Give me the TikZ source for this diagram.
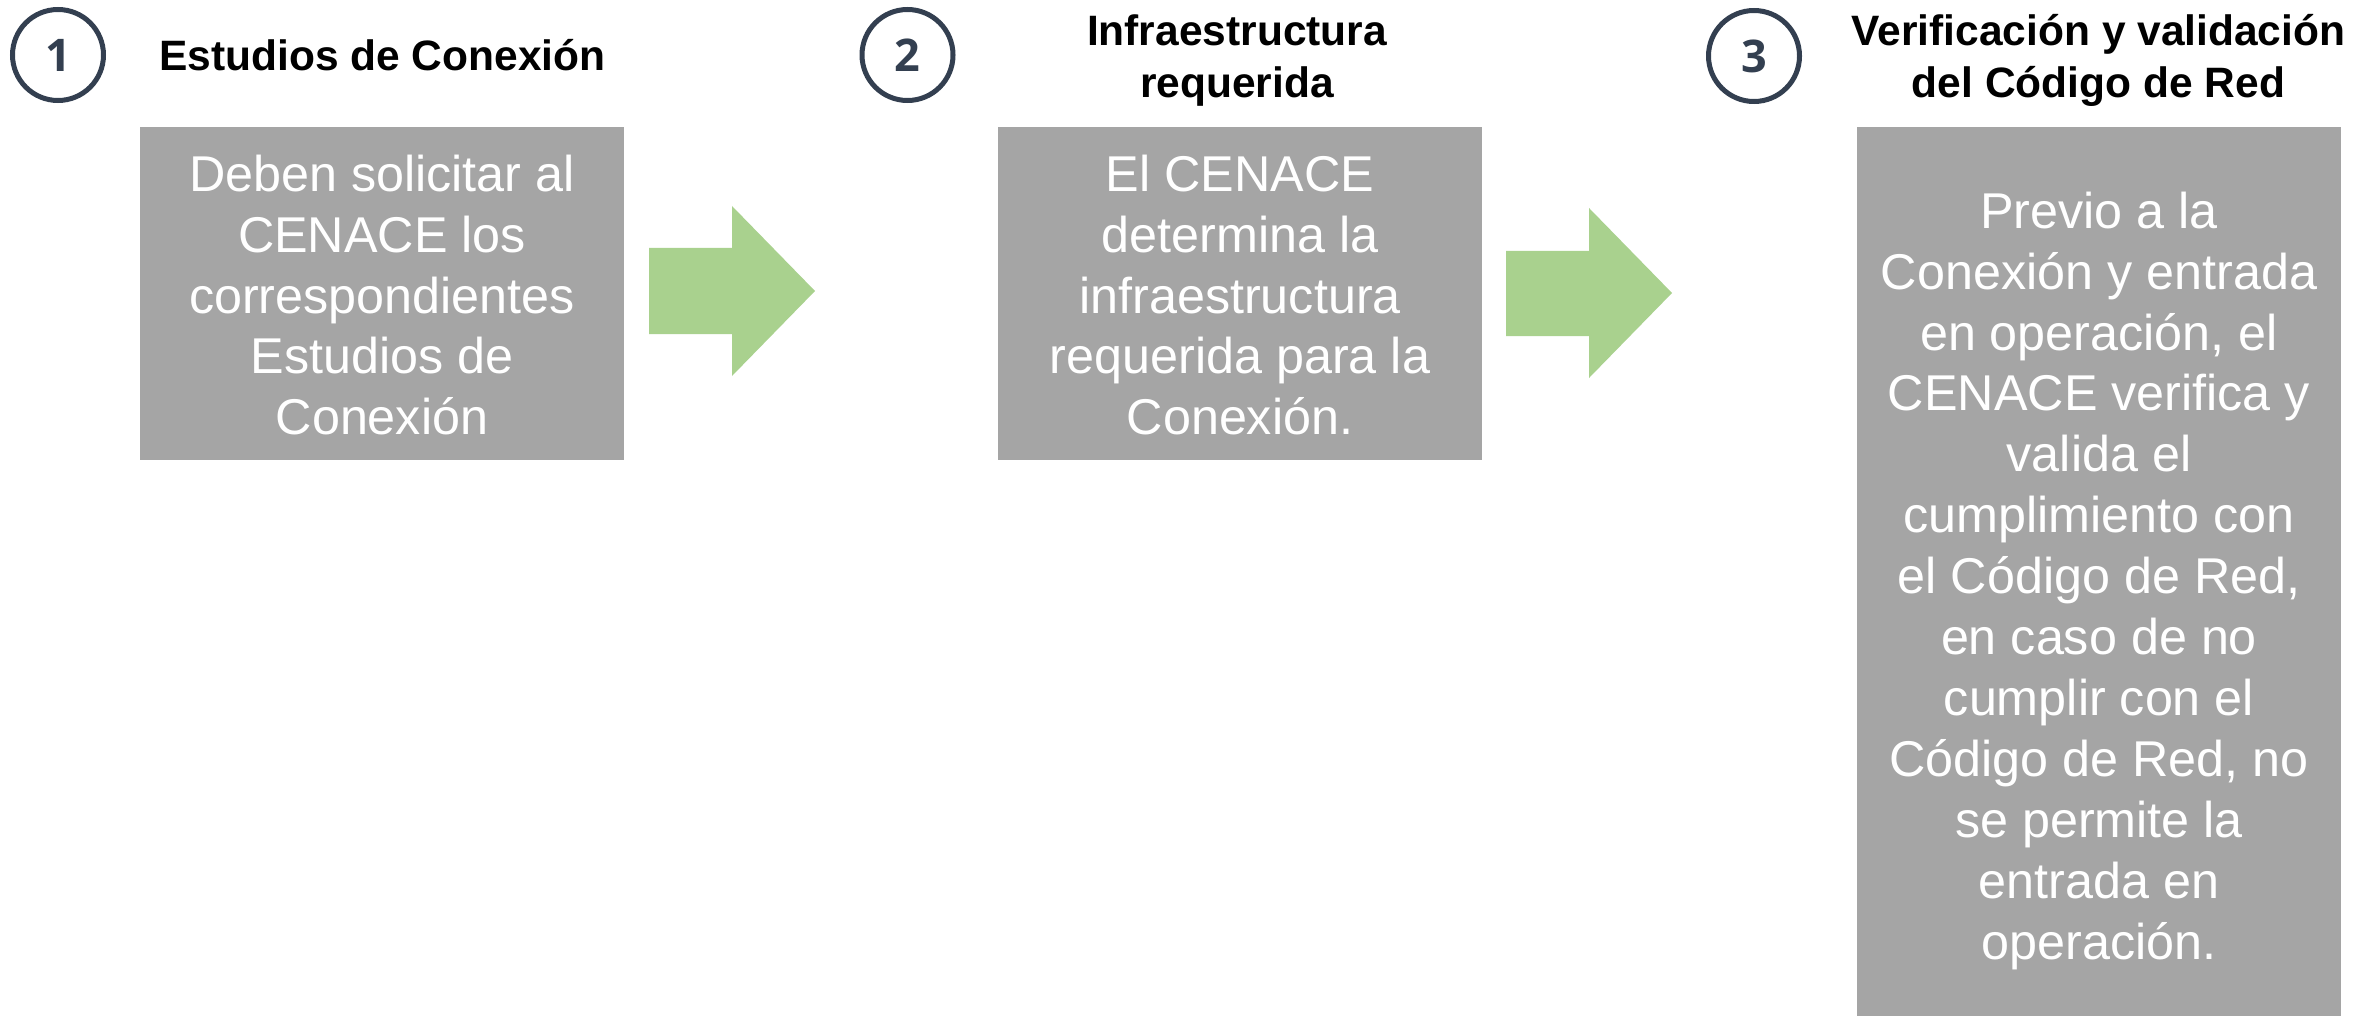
\documentclass[tikz,border=0pt]{standalone}
\usepackage{fontspec}
\setmainfont{Liberation Sans}
\newfontfamily\numfont{Open Sans}
\definecolor{slate}{RGB}{51,63,80}
\definecolor{boxgray}{RGB}{165,165,165}
\definecolor{arrowgreen}{RGB}{169,209,142}
\begin{document}
\begin{tikzpicture}[x=1pt,y=-1pt,
  graybox/.style={rectangle, fill=boxgray, draw=none, inner sep=0pt},
  boxtext/.style={text=white, align=center, inner sep=0pt, anchor=north, font=\fontsize{50.3}{60.9}\selectfont},
  titletext/.style={font=\bfseries\fontsize{42.5}{52}\selectfont, inner sep=0pt, align=center},
  stepnum/.style={circle, draw=slate, line width=5pt, minimum size=91pt, inner sep=0pt, text=slate, font=\numfont\bfseries\fontsize{45}{54}\selectfont},
  flowarrow/.style={fill=arrowgreen, draw=none}]
\useasboundingbox (0,0) rectangle (2353,1016);

% boxes
\node[graybox, minimum width=484pt, minimum height=333pt] (b1) at (382,293.5) {};
\node[graybox, minimum width=484pt, minimum height=333pt] (b2) at (1240,293.5) {};
\node[graybox, minimum width=484pt, minimum height=889pt] (b3) at (2099,571.5) {};

% box texts
\node[boxtext] (t1) at (382,151) {\rule{0pt}{40pt}Deben solicitar al\\CENACE los\\correspondientes\\Estudios de\\Conexión};
\node[boxtext] (t2) at (1240,151) {\rule{0pt}{40pt}El CENACE\\determina la\\infraestructura\\requerida para la\\Conexión.};
\node[boxtext] (t3) at (2099,188) {\rule{0pt}{40pt}Previo a la\\Conexión y entrada\\en operación, el\\CENACE verifica y\\valida el\\cumplimiento con\\el Código de Red,\\en caso de no\\cumplir con el\\Código de Red, no\\se permite la\\entrada en\\operación.};

% titles
\node[titletext, anchor=base west] (h1) at (159,71) {Estudios de Conexión};
\node[titletext, anchor=north] (h2) at (1237,10) {\rule{0pt}{35pt}Infraestructura\\requerida};
\node[titletext, anchor=north] (h3) at (2098.5,10) {\rule{0pt}{35pt}Verificación y validación\\del Código de Red};

% step numbers
\node[stepnum] (n1) at (58,55) {1};
\node[stepnum] (n2) at (907.5,55) {2};
\node[stepnum] (n3) at (1754,56) {3};

% arrows
\fill[flowarrow] (649,248) -- (732,248) -- (732,206) -- (815,291) -- (732,376) -- (732,334) -- (649,334) -- cycle;
\fill[flowarrow] (1506,251) -- (1589,251) -- (1589,208) -- (1672,293) -- (1589,378) -- (1589,336) -- (1506,336) -- cycle;
\end{tikzpicture}
\end{document}
